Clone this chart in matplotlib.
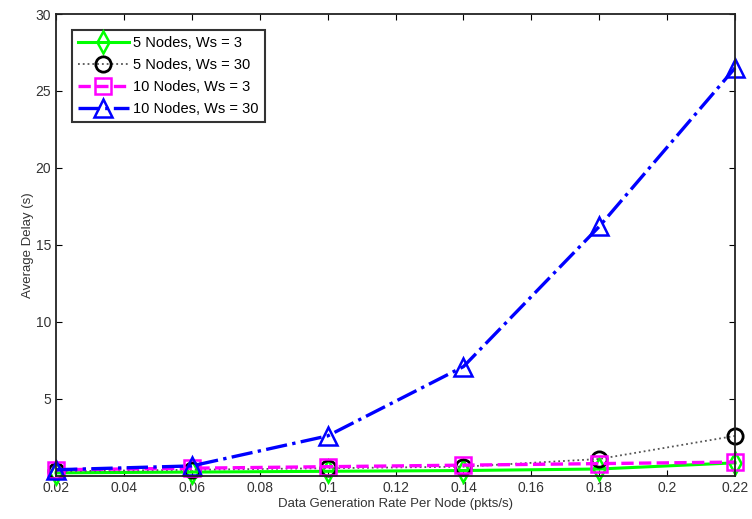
import matplotlib
matplotlib.use("Agg")
import matplotlib.pyplot as plt
import numpy as np

plt.rcParams['font.family'] = ['Liberation Sans', 'DejaVu Sans']

rate = [0.02, 0.06, 0.1, 0.14, 0.18, 0.22]
delay_5_3 = [0.2, 0.25, 0.3, 0.35, 0.45, 0.85]
delay_5_30 = [0.3, 0.4, 0.5, 0.6, 1.1, 2.6]
delay_10_3 = [0.4, 0.5, 0.6, 0.7, 0.8, 0.9]
delay_10_30 = [0.4, 0.65, 2.6, 7.1, 16.2, 26.5]

fig = plt.figure(figsize=(7.52, 5.19), dpi=100)
ax = fig.add_axes([0.0745, 0.083, 0.903, 0.89])

ax.plot(rate, delay_5_3, color="#00ff00", linestyle="-", lw=2.2, marker="d",
        markersize=11, markerfacecolor="none", markeredgewidth=1.8,
        label="5 Nodes, Ws = 3", clip_on=False)
ax.plot(rate, delay_5_30, color="#555555", linestyle=":", lw=1.3, marker="o",
        markersize=11, markerfacecolor="none", markeredgecolor="black",
        markeredgewidth=2, label="5 Nodes, Ws = 30", clip_on=False)
ax.plot(rate, delay_10_3, color="magenta", linestyle="--", lw=2.4, marker="s",
        markersize=11, markerfacecolor="none", markeredgewidth=1.8,
        label="10 Nodes, Ws = 3", clip_on=False)
ax.plot(rate, delay_10_30, color="blue", linestyle="-.", lw=2.4, marker="^",
        markersize=13, markerfacecolor="none", markeredgewidth=1.8,
        label="10 Nodes, Ws = 30", clip_on=False)

ax.set_xlim(0.02, 0.22)
ax.set_ylim(0, 30)
ax.set_xticks([0.02, 0.04, 0.06, 0.08, 0.1, 0.12, 0.14, 0.16, 0.18, 0.2, 0.22])
ax.set_xticklabels(["0.02", "0.04", "0.06", "0.08", "0.1", "0.12", "0.14", "0.16", "0.18", "0.2", "0.22"])
ax.set_yticks([5, 10, 15, 20, 25, 30])
ax.tick_params(direction="in", labelsize=10, length=4, top=True, right=True,
               labelcolor="#333333")
ax.set_xlabel("Data Generation Rate Per Node (pkts/s)", fontsize=9.5, labelpad=2,
              color="#333333")
ax.set_ylabel("Average Delay (s)", fontsize=9.5, labelpad=1, color="#333333")
for s in ax.spines.values():
    s.set_linewidth(1.3)
    s.set_color("#222222")

leg = ax.legend(loc="upper left", fontsize=10.5, frameon=True, fancybox=False,
                edgecolor="black", handlelength=3.5, borderaxespad=1.1,
                labelspacing=0.55, handletextpad=0.3, borderpad=0.4)
leg.get_frame().set_linewidth(1.5)

fig.savefig("out.png", dpi=100)
